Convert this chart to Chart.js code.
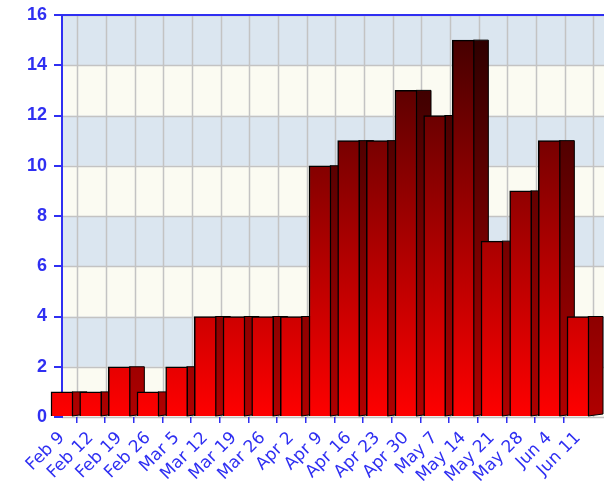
<!DOCTYPE html>
<html>
<head>
<meta charset="utf-8">
<script src="https://cdn.jsdelivr.net/npm/chart.js@4/dist/chart.umd.min.js"></script>
<style>
  html, body { margin: 0; padding: 0; background: #ffffff; }
  #wrap { width: 604px; height: 486px; }
</style>
</head>
<body>
<div id="wrap"><canvas id="c" width="604" height="486"></canvas></div>
<script>
const categories = ["Feb 9", "Feb 12", "Feb 19", "Feb 26", "Mar 5", "Mar 12", "Mar 19", "Mar 26", "Apr 2", "Apr 9", "Apr 16", "Apr 23", "Apr 30", "May 7", "May 14", "May 21", "May 28", "Jun 4", "Jun 11"];
const values = [1, 1, 2, 1, 2, 4, 4, 4, 4, 10, 11, 11, 13, 12, 15, 7, 9, 11, 4];
const yTicks = [0, 2, 4, 6, 8, 10, 12, 14, 16];

const BLUE = "#2f2ff2";
const DEPTH = 14;

function frontGradient(ctx, area) {
  const g = ctx.createLinearGradient(0, area.bottom, 0, area.top);
  g.addColorStop(0, "#ff0000");
  g.addColorStop(1, "#3a0000");
  return g;
}
function sideGradient(ctx, area) {
  const g = ctx.createLinearGradient(0, area.bottom, 0, area.top);
  g.addColorStop(0, "#b00000");
  g.addColorStop(1, "#260000");
  return g;
}

const wallPlugin = {
  id: "wall",
  beforeDraw(chart) {
    const { ctx, chartArea: a, scales } = chart;
    const ys = scales.y, xs = scales.x;
    const right = chart.width;
    ctx.save();
    for (let i = 0; i < yTicks.length - 1; i++) {
      const y0 = ys.getPixelForValue(yTicks[i]);
      const y1 = ys.getPixelForValue(yTicks[i + 1]);
      ctx.fillStyle = (i % 2 === 0) ? "#fbfbf2" : "#dbe6f0";
      ctx.fillRect(a.left, y1, right - a.left, y0 - y1);
    }
    ctx.strokeStyle = "#c3c3c3";
    ctx.lineWidth = 1.5;
    for (const t of yTicks) {
      const y = Math.round(ys.getPixelForValue(t)) + 0.5;
      ctx.beginPath(); ctx.moveTo(a.left, y); ctx.lineTo(right, y); ctx.stroke();
    }
    const step = xs.getPixelForValue(1) - xs.getPixelForValue(0);
    for (let i = 0; i < categories.length; i++) {
      const x = Math.round(xs.getPixelForValue(i) + step / 2 + 1) + 0.5;
      ctx.beginPath(); ctx.moveTo(x, a.top); ctx.lineTo(x, a.bottom); ctx.stroke();
    }
    ctx.strokeStyle = BLUE;
    ctx.lineWidth = 2;
    ctx.beginPath(); ctx.moveTo(a.left, a.top); ctx.lineTo(right, a.top); ctx.stroke();
    ctx.restore();
  },
  beforeDatasetsDraw(chart) {
    const { ctx, chartArea: a } = chart;
    const meta = chart.getDatasetMeta(0);
    ctx.save();
    ctx.fillStyle = sideGradient(ctx, a);
    ctx.strokeStyle = "#000000";
    ctx.lineWidth = 1;
    for (const el of meta.data) {
      const r = el.x + el.width / 2;
      const top = el.y, base = el.base;
      ctx.beginPath();
      ctx.moveTo(r - 1, top);
      ctx.lineTo(r + DEPTH, top);
      ctx.lineTo(r + DEPTH, base - 2);
      ctx.lineTo(r - 1, base);
      ctx.closePath();
      ctx.fill();
      ctx.stroke();
    }
    ctx.restore();
  }
};

new Chart(document.getElementById("c"), {
  type: "bar",
  data: {
    labels: categories,
    datasets: [{
      data: values,
      clip: false,
      barThickness: 22,
      borderWidth: 1.5,
      borderColor: "#000000",
      backgroundColor: (c) => {
        const a = c.chart.chartArea;
        if (!a) return "#cc0000";
        return frontGradient(c.chart.ctx, a);
      }
    }]
  },
  options: {
    responsive: false,
    animation: false,
    layout: { padding: { top: 15, right: 26, left: 0, bottom: 0 } },
    plugins: { legend: { display: false }, tooltip: { enabled: false }, title: { display: false } },
    scales: {
      x: {
        offset: false,
        border: { display: false },
        grid: { display: true, drawOnChartArea: false, color: BLUE, tickLength: 6, lineWidth: 1.5 },
        ticks: {
          color: BLUE,
          autoSkip: false,
          maxRotation: 45, minRotation: 45,
          padding: 5,
          font: { family: "'DejaVu Sans', Verdana, sans-serif", size: 17 }
        },
        afterFit(s) { s.height = 69; s.paddingLeft = 0; s.paddingRight = 0; }
      },
      y: {
        min: 0, max: 16,
        afterBuildTicks(s) { s.ticks = yTicks.map(v => ({ value: v })); },
        border: { display: true, color: BLUE, width: 2 },
        grid: { display: true, drawOnChartArea: false, color: BLUE, tickLength: 8, lineWidth: 2 },
        ticks: {
          color: BLUE,
          padding: 7,
          font: { family: "Arial, 'Liberation Sans', sans-serif", size: 18, weight: "bold" }
        },
        afterFit(s) { s.width = 62; s.paddingTop = 0; s.paddingBottom = 0; }
      }
    }
  },
  plugins: [wallPlugin]
});
</script>
</body>
</html>
